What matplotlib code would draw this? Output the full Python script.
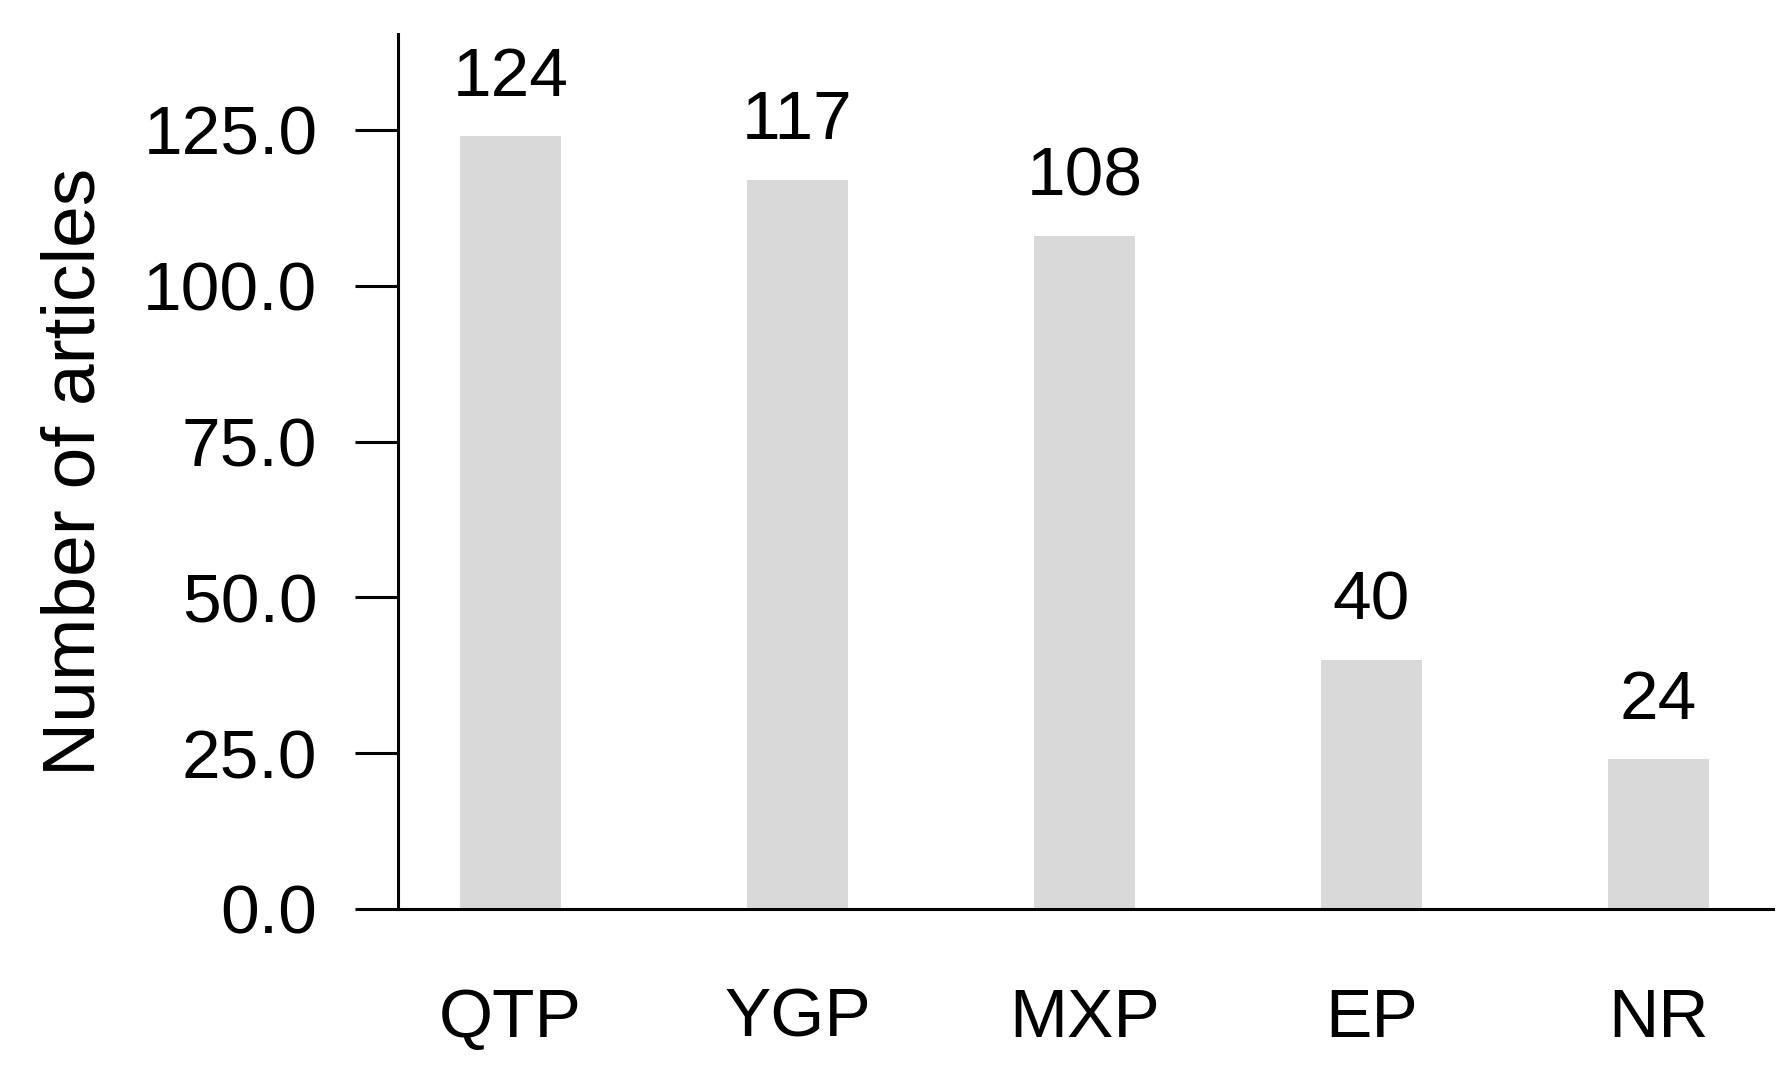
# Gráfico de barras: número de artículos por región
import numpy as np
import matplotlib.pyplot as plt

# Datos
regiones = ['QTP', 'YGP', 'MXP', 'EP', 'NR']
articulos = [124, 117, 108, 40, 24]
marcas_y = [0, 25, 50, 75, 100, 125]

plt.rcParams['font.family'] = ['Liberation Sans', 'DejaVu Sans']

fig = plt.figure(figsize=(17.9, 10.78), dpi=100)
ax = fig.add_axes([398 / 1790, 1 - 909 / 1078, (1773 - 398) / 1790, (909 - 34) / 1078])

x = np.arange(len(regiones))
barras = ax.bar(x, articulos, width=0.35, color='#d9d9d9')

# Etiquetas de valor encima de cada barra
for xi, v in zip(x, articulos):
    ax.annotate(str(v), (xi, v), xytext=(0, 19), textcoords='offset points',
                ha='center', va='bottom', fontsize=50)

ax.set_xlim(-0.392, 4.399)
ax.set_ylim(0, 140.4)
ax.set_xticks(x)
ax.set_xticklabels(regiones)
ax.set_yticks(marcas_y)
ax.set_yticklabels([f'{m:.1f}' for m in marcas_y])
ax.tick_params(axis='x', length=0, pad=56, labelsize=50)
ax.tick_params(axis='y', length=31, width=2.2, pad=27, labelsize=50)
ax.set_ylabel('Number of articles', fontsize=54)
ax.yaxis.set_label_coords(-(398 - 110) / (1773 - 398), 0.5)

for lado in ['top', 'right']:
    ax.spines[lado].set_visible(False)
for lado in ['left', 'bottom']:
    ax.spines[lado].set_linewidth(2.2)

fig.savefig('out.png', dpi=100)
